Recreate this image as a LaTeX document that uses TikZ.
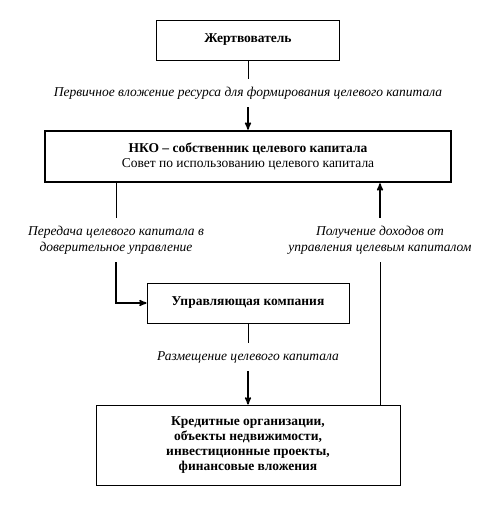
\documentclass[tikz,border=0pt]{standalone}
\usepackage{fontspec}
\setmainfont{Liberation Serif}
\usetikzlibrary{arrows,positioning}

\begin{document}
\begin{tikzpicture}[x=1pt,y=-1pt,>=stealth',
      box/.style={draw, line width=0.8pt, align=center, font=\bfseries\fontsize{13.5}{15}\selectfont},
      lbl/.style={align=center, inner xsep=2pt, inner ysep=8pt, font=\itshape\fontsize{13.5}{16}\selectfont},
      flow/.style={->, line width=1.5pt, shorten >=0pt}]
     \useasboundingbox (0,0) rectangle (497,508);
     \node[box, minimum width=183pt, minimum height=40pt] (donor) at (248,40) {Жертвователь};
     \node[box, line width=2.6pt, minimum width=406pt, minimum height=51pt] (nko) at (248,156.5)
       {НКО – собственник целевого капитала\\\mdseries Совет по использованию целевого капитала};
     \node[box, minimum width=202pt, minimum height=40pt] (uk) at (248,303) {Управляющая компания};
     \node[box, minimum width=304pt, minimum height=80pt] (kred) at (248,445)
       {Кредитные организации,\\объекты недвижимости,\\инвестиционные проекты,\\финансовые вложения};
     \node[lbl] (initial) at (248,93) {Первичное вложение ресурса для формирования целевого капитала};
     \node[lbl] (transfer) at (116,240) {Передача целевого капитала в\\доверительное управление};
     \node[lbl] (income) at (380,240) {Получение доходов от\\управления целевым капиталом};
     \node[lbl] (placement) at (248,357) {Размещение целевого капитала};
     \draw[line width=0.8pt] (donor) -- (initial);
     \draw[flow] (initial) -- (nko);
     \draw[line width=0.8pt] (nko.south -| transfer) -- (transfer);
     \draw[flow] (transfer) |- (uk);
     \draw[line width=0.8pt] (kred.north -| income) -- (income);
     \draw[flow] (income) -- (nko.south -| income);
     \draw[line width=0.8pt] (uk) -- (placement);
     \draw[flow] (placement) -- (kred);
    \end{tikzpicture}
\end{document}
